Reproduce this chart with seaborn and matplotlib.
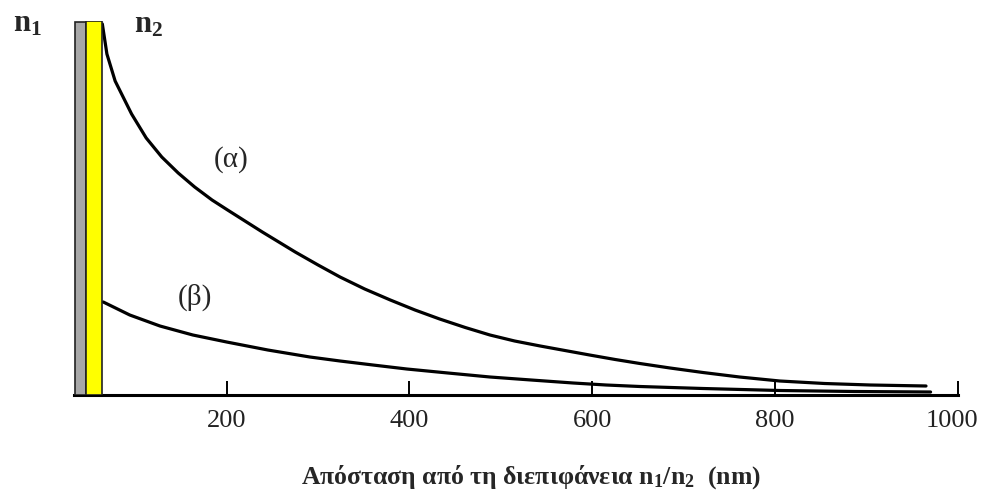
import numpy as np
import pandas as pd
import matplotlib
matplotlib.use("Agg")
import matplotlib.pyplot as plt
from matplotlib.transforms import ScaledTranslation
import seaborn as sns

sns.set_theme(style="white")
plt.rcParams["font.family"] = ["Liberation Serif", "DejaVu Serif"]
plt.rcParams["mathtext.fontset"] = "custom"
plt.rcParams["mathtext.rm"] = "Liberation Serif:bold"
plt.rcParams["mathtext.bf"] = "Liberation Serif:bold"
plt.rcParams["mathtext.it"] = "Liberation Serif:bold"

# Curve (α): distance (nm) vs field amplitude (arbitrary units)
alpha_x = [64, 64, 69, 78, 96, 112, 129, 147, 165, 184, 201, 239, 275, 300, 324,
           351, 379, 406, 433, 461, 488, 515, 543, 570, 597, 625, 652, 685, 721,
           761, 805, 854, 904, 965]
alpha_y = [374, 368, 341, 314, 281, 257, 238, 222, 208, 195, 185, 163, 143, 130, 118,
           106, 95, 85, 76, 67.5, 60, 54, 49, 44.5, 40, 35.5, 31.5, 27, 22.5,
           18, 14, 11.5, 10, 9]

# Curve (β)
beta_x = [65, 94, 127, 163, 200, 245, 291, 324, 360, 397, 442, 488, 533, 579,
          615, 652, 721, 805, 887, 970]
beta_y = [93, 80, 69, 60, 53, 45, 38, 34, 30, 26, 22, 18, 15, 12,
          10, 8.5, 6.5, 4.5, 3.5, 3]

# Media layers n1 (grey) and n2 (yellow)
layer_names = ["n1", "n2"]
layer_left = [34, 46]
layer_width = [12, 18]
layer_height = [373, 374]
layer_colors = ["#a8a8a8", "#ffff00"]

tick_values = [200, 400, 600, 800, 1000]

df = pd.concat([
    pd.DataFrame({"x": alpha_x, "y": alpha_y, "curve": "α"}),
    pd.DataFrame({"x": beta_x, "y": beta_y, "curve": "β"}),
])

fig = plt.figure(figsize=(9.82, 5.02), dpi=100)
ax = fig.add_axes([74 / 982, 106 / 502, 884 / 982, 374 / 502])

ax.bar(layer_left, layer_height, width=layer_width, align="edge",
       color=layer_colors, edgecolor="#222222", linewidth=1.2, zorder=3)

sns.lineplot(data=df, x="x", y="y", hue="curve", palette=["black", "black"],
             linewidth=2.3, legend=False, ax=ax, zorder=2, sort=False)

ax.set_xlim(33, 1000)
ax.set_ylim(0, 374)
for s in ["top", "left", "right"]:
    ax.spines[s].set_visible(False)
ax.spines["bottom"].set_color("black")
ax.spines["bottom"].set_linewidth(2.2)
ax.set_yticks([])
ax.set_xticks(tick_values)
ax.set_xticklabels([str(v) for v in tick_values], fontsize=19)
ax.tick_params(axis="x", direction="in", length=10, width=1.4, color="black",
               pad=10, labelcolor="#222222", bottom=True)
ax.set_xlabel("")
ax.set_ylabel("")
ax.grid(False)

# nudge the last tick label inward so it stays inside the canvas
last = ax.get_xticklabels()[-1]
last.set_transform(last.get_transform() + ScaledTranslation(-6 / 100, 0, fig.dpi_scale_trans))

ax.text(205, 236, "(α)", fontsize=21, ha="center", va="center")
ax.text(165, 99, "(β)", fontsize=21, ha="center", va="center")

fig.text(27 / 982, 1 - 24 / 502, r"$\mathbf{n_1}$", fontsize=22, ha="center", va="center")
fig.text(148 / 982, 1 - 25 / 502, r"$\mathbf{n_2}$", fontsize=22, ha="center", va="center")

fig.text(531 / 982, 1 - 477 / 502,
         r"Απόσταση από τη διεπιφάνεια $\mathbf{n_1/n_2}$  (nm)",
         fontsize=18.5, fontweight="bold", ha="center", va="center")

fig.savefig("out.png", dpi=100, facecolor="white")
